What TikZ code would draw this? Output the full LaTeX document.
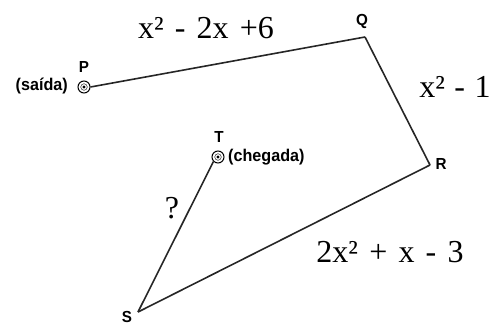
\documentclass[tikz,border=0pt]{standalone}
\usepackage{fontspec}
\setmainfont{Liberation Serif}
\newfontfamily\lblfont[FakeStretch=0.95]{Liberation Sans}
\begin{document}
\begin{tikzpicture}[x=1pt,y=-1pt,
  seg/.style={line width=1.6pt,black!85},
  pt/.style={font=\lblfont\bfseries\fontsize{16}{16}\selectfont,inner sep=0pt},
  tag/.style={font=\lblfont\bfseries\fontsize{17}{17}\selectfont,inner sep=0pt},
  expr/.style={font=\fontsize{32}{32}\selectfont,inner sep=0pt},
  spot/.style={circle,draw,line width=1pt,minimum size=12pt,inner sep=0pt}]
\useasboundingbox (0,0) rectangle (495,327);
\node[spot] (P) at (84,87) {};
\node[spot] (T) at (218,157) {};
\fill (P.center) circle (1.6pt);
\fill (T.center) circle (1.6pt);
\draw (P.center) circle (3.3pt);
\draw (T.center) circle (3.3pt);
\coordinate (Q) at (365,37);
\coordinate (R) at (430,165);
\coordinate (S) at (138,312);
\draw[seg] (P.east) -- (Q);
\draw[seg] (Q) -- (R);
\draw[seg] (R) -- (S);
\draw[seg] (S) -- (T.south west);
\node[pt] (lP) at (84,67) {P};
\node[pt] (lQ) at (362,21) {Q};
\node[pt] (lR) at (441,164) {R};
\node[pt] (lS) at (127,317) {S};
\node[pt] (lT) at (219,137) {T};
\node[tag,anchor=east] (sai) at (68,86) {(saída)};
\node[tag,anchor=west] (che) at (228,157) {(chegada)};
\node[expr] (e1) at (206,28) {x²\hspace{0.35em}-\hspace{0.35em}2x\hspace{0.35em}+6};
\node[expr] (e2) at (455,87) {x²\hspace{0.3em}-\hspace{0.3em}1};
\node[expr] (e3) at (390,252) {2x²\hspace{0.35em}+\hspace{0.35em}x\hspace{0.35em}-\hspace{0.35em}3};
\node[expr] (q) at (172,208) {?};
\end{tikzpicture}
\end{document}
